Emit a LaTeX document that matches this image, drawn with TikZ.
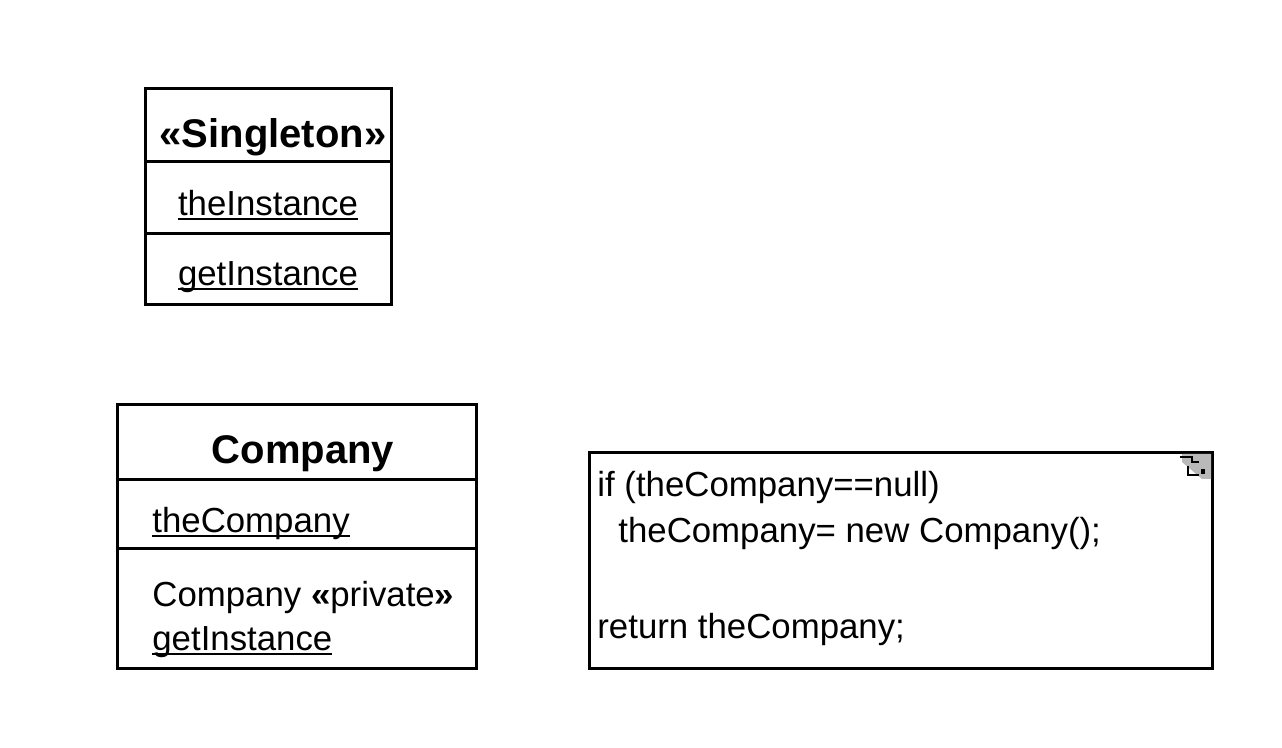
\documentclass[tikz,border=0pt]{standalone}
\usepackage{fontspec}
\setmainfont{Liberation Sans}
\usetikzlibrary{positioning}
% one pixel of the layout
\newcommand{\px}{0.5pt}
% UML static underline, close to the baseline
\newcommand{\umlul}[1]{\setbox0=\hbox{#1}\rlap{\rule[-1.9pt]{\wd0}{0.9pt}}\box0}

\begin{document}
\begin{tikzpicture}[x=\px, y=-\px,
    umlbox/.style={draw, line width=1.5pt, inner sep=0pt, outer sep=0pt},
    umltitle/.style={font=\fontsize{20}{24}\selectfont\bfseries, inner sep=0pt, anchor=base},
    umltext/.style={font=\fontsize{17.4}{23}\selectfont, inner sep=0pt, anchor=base west},
    umlcentre/.style={umltext, anchor=base}]
    \useasboundingbox (0,0) rectangle (1282,748);
    % Singleton class
    \node[umlbox, anchor=north west, minimum width=246*\px, minimum height=73*\px] (single_name) at (145,89) {};
    \node[umlbox, below=0pt of single_name, minimum width=246*\px, minimum height=72*\px] (single_attr) {};
    \node[umlbox, below=0pt of single_attr, minimum width=246*\px, minimum height=71*\px] (single_ops) {};
    \node[umltitle] (single_title) at (273,148) {«Singleton»};
    \node[umlcentre] (single_inst) at (268,216) {\umlul{theInstance}};
    \node[umlcentre] (single_get) at (268,286) {\umlul{getInstance}};
    % Company class
    \node[umlbox, anchor=north west, minimum width=359*\px, minimum height=75*\px] (comp_name) at (117,405) {};
    \node[umlbox, below=0pt of comp_name, minimum width=359*\px, minimum height=69*\px] (comp_attr) {};
    \node[umlbox, below=0pt of comp_attr, minimum width=359*\px, minimum height=120*\px] (comp_ops) {};
    \node[umltitle] (comp_title) at (303,464) {Company};
    \node[umltext] (comp_field) at (152,533) {\umlul{theCompany}};
    \node[umltext] (comp_ctor) at (152,607) {Company \textbf{«}private\textbf{»}};
    \node[umltext] (comp_get) at (152,651) {\umlul{getInstance}};
    % note with the code of getInstance
    \node[umlbox, anchor=north west, minimum width=623*\px, minimum height=216*\px] (note) at (589,453) {};
    \node[umltext] (note_if) at (597,497) {if (theCompany==null)};
    \node[umltext] (note_new) at (618,543) {theCompany= new Company();};
    \node[umltext] (note_ret) at (597,639) {return theCompany;};
    % note icon in the corner
    \fill[gray!55] (1182,454) -- (1211,454) -- (1211,479) -- (1202,479) -- (1182,462) -- cycle;
    \draw[line width=1.3pt] (1180,457) -- (1192,457) -- (1192,462) -- (1199,462);
    \draw[line width=1.3pt] (1188,466) -- (1188,475) -- (1199,475);
    \fill (1201,469) rectangle (1205,474);
\end{tikzpicture}
\end{document}
